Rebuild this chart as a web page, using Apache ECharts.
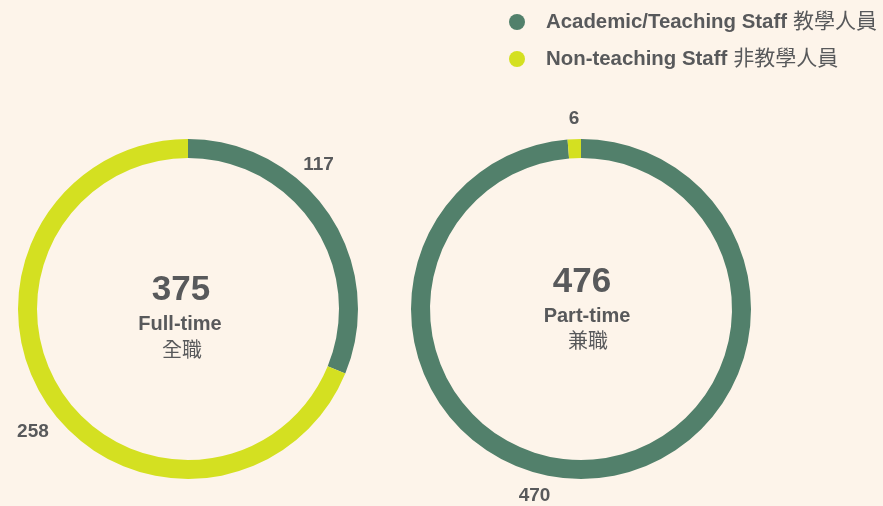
<!DOCTYPE html>
<html>
<head>
<meta charset="utf-8">
<script src="https://cdn.jsdelivr.net/npm/echarts@6/dist/echarts.min.js"></script>
<style>
html,body{margin:0;padding:0;background:#fdf4ea;}
#c{width:883px;height:506px;}
</style>
</head>
<body>
<div id="c"></div>
<script>
var seriesNames = ['Academic/Teaching Staff 教學人員', 'Non-teaching Staff 非教學人員'];
var legendLatin = ['Academic/Teaching Staff', 'Non-teaching Staff'];
var legendCJK = ['教學人員', '非教學人員'];
var fullTimeValues = [117, 258];
var partTimeValues = [470, 6];
var fullTimeTotal = '375';
var partTimeTotal = '476';
var fullTimeLabel = ['Full-time', '全職'];
var partTimeLabel = ['Part-time', '兼職'];

var colors = ['#52806b', '#d4e021'];
var textColor = '#58595b';
var font = '"Liberation Sans", Arial, "Noto Sans CJK TC", sans-serif';

var fullOffsets = [[-31, -50], [7, 28]];
var partOffsets = [[-74, 17], [10, -20]];

function buildData(values, offsets) {
  return values.map(function (v, i) {
    return {
      name: seriesNames[i],
      value: v,
      label: { offset: offsets[i] }
    };
  });
}

var commonSeries = {
  type: 'pie',
  radius: [151, 170],
  startAngle: 90,
  clockwise: true,
  avoidLabelOverlap: false,
  silent: true,
  label: {
    show: true,
    position: 'outside',
    formatter: '{c}',
    color: textColor,
    fontFamily: font,
    fontWeight: 'bold',
    fontSize: 19
  },
  labelLine: { show: false, length: 0, length2: 0 },
  itemStyle: { borderWidth: 0 }
};

var chart = echarts.init(document.getElementById('c'));
chart.setOption({
  backgroundColor: '#fdf4ea',
  color: colors,
  animation: false,
  legend: {
    orient: 'vertical',
    left: 504,
    top: 6,
    icon: 'circle',
    itemWidth: 16,
    itemHeight: 16,
    itemGap: 15,
    data: seriesNames,
    formatter: function (name) {
      var i = seriesNames.indexOf(name);
      return '{a|' + legendLatin[i] + '}{s| }{b|' + legendCJK[i] + '}';
    },
    textStyle: {
      color: textColor,
      fontFamily: font,
      fontWeight: 'bold',
      fontSize: 20,
      lineHeight: 22,
      padding: [0, 0, 0, 16],
      rich: {
        a: { color: textColor, fontFamily: font, fontWeight: 'bold', fontSize: 20.4, lineHeight: 22 },
        s: { fontFamily: font, fontSize: 22, lineHeight: 22 },
        b: { color: textColor, fontFamily: font, fontWeight: 'normal', fontSize: 21, lineHeight: 22 }
      }
    }
  },
  graphic: [
    { type: 'text', position: [181, 290], style: { text: fullTimeTotal, fill: textColor, font: 'bold 35px ' + font, textAlign: 'center', textVerticalAlign: 'middle' } },
    { type: 'text', position: [180, 324], style: { text: fullTimeLabel[0], fill: textColor, font: 'bold 20px ' + font, textAlign: 'center', textVerticalAlign: 'middle' } },
    { type: 'text', position: [182, 351], style: { text: fullTimeLabel[1], fill: textColor, font: '20px ' + font, textAlign: 'center', textVerticalAlign: 'middle' } },
    { type: 'text', position: [582, 282], style: { text: partTimeTotal, fill: textColor, font: 'bold 35px ' + font, textAlign: 'center', textVerticalAlign: 'middle' } },
    { type: 'text', position: [587, 316], style: { text: partTimeLabel[0], fill: textColor, font: 'bold 20px ' + font, textAlign: 'center', textVerticalAlign: 'middle' } },
    { type: 'text', position: [588, 342], style: { text: partTimeLabel[1], fill: textColor, font: '20px ' + font, textAlign: 'center', textVerticalAlign: 'middle' } }
  ],
  series: [
    Object.assign({}, commonSeries, { center: [188, 309], data: buildData(fullTimeValues, fullOffsets) }),
    Object.assign({}, commonSeries, { center: [581, 309], data: buildData(partTimeValues, partOffsets) })
  ]
});
</script>
</body>
</html>
